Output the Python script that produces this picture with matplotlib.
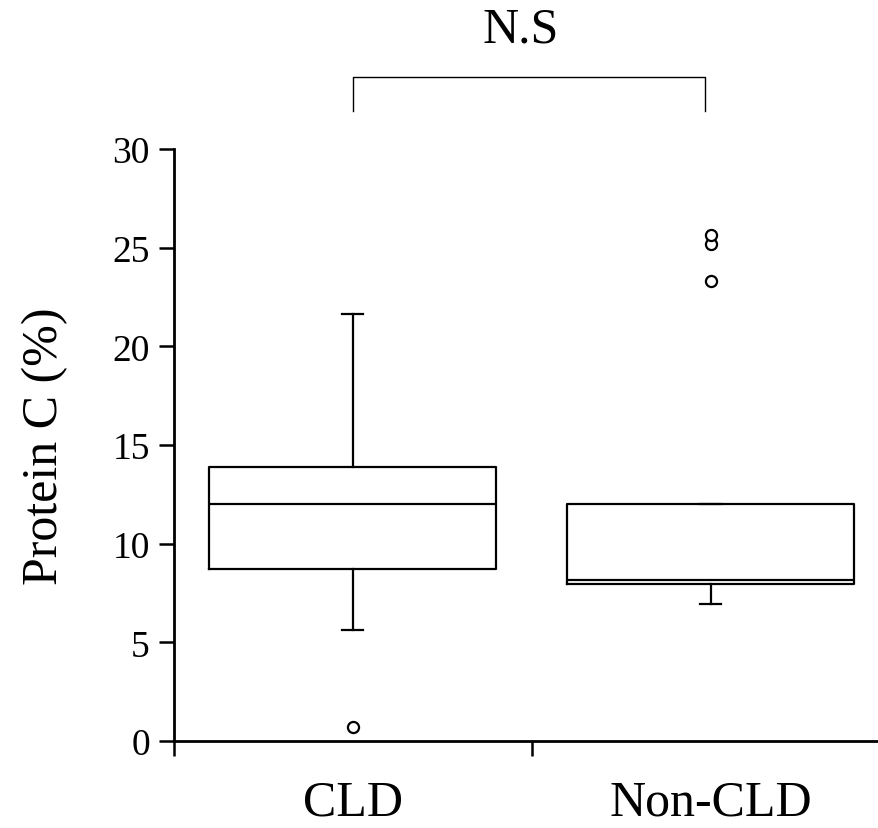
import matplotlib.pyplot as plt

plt.rcParams['font.family'] = ['Liberation Serif', 'DejaVu Serif']

# data
groups = ["CLD", "Non-CLD"]
q1 = [8.7, 7.95]
medians = [12.0, 8.15]
q3 = [13.9, 12.0]
whisker_low = [5.65, 6.95]
whisker_high = [21.65, 12.0]
outliers = [[0.7], [23.3, 25.2, 25.65]]

stats = []
for i in range(len(groups)):
    stats.append(dict(label=groups[i], q1=q1[i], med=medians[i], q3=q3[i],
                      whislo=whisker_low[i], whishi=whisker_high[i],
                      fliers=outliers[i]))

fig = plt.figure(figsize=(8.79, 8.29), dpi=100)
ax = fig.add_axes([0.1974, 0.1049, 0.8026, 0.7141])

lw = 1.6
ax.bxp(stats, positions=[0, 1], widths=0.8, showfliers=True,
       boxprops=dict(color='black', linewidth=lw),
       medianprops=dict(color='black', linewidth=lw),
       whiskerprops=dict(color='black', linewidth=lw),
       capprops=dict(color='black', linewidth=lw),
       capwidths=0.06,
       flierprops=dict(marker='o', markerfacecolor='white',
                       markeredgecolor='black', markersize=8,
                       markeredgewidth=1.6))

ax.set_xlim(-0.5, 1.47)
ax.set_ylim(0, 30)
ax.set_yticks([0, 5, 10, 15, 20, 25, 30])

# separator ticks between groups, labels without ticks
ax.set_xticks([-0.5, 0.5])
ax.set_xticklabels([])
ax.set_xticks([0, 1], minor=True)
ax.set_xticklabels(groups, minor=True, fontsize=36)
ax.tick_params(axis='x', which='minor', length=0, pad=27)
ax.tick_params(axis='x', which='major', length=11, width=1.8, direction='out')
ax.tick_params(axis='y', length=11, width=1.8, labelsize=27, pad=6)

for side in ['top', 'right']:
    ax.spines[side].set_visible(False)
for side in ['left', 'bottom']:
    ax.spines[side].set_linewidth(2)

ax.set_ylabel("Protein C (%)", fontsize=36, labelpad=32)

# significance bracket
ax.plot([0, 0, 0.985, 0.985], [31.95, 33.65, 33.65, 31.95], color='black',
        linewidth=1, clip_on=False)
ax.text(0.47, 35.45, "N.S", fontsize=36, ha='center', va='baseline',
        clip_on=False)

fig.savefig("out.png", dpi=100)
